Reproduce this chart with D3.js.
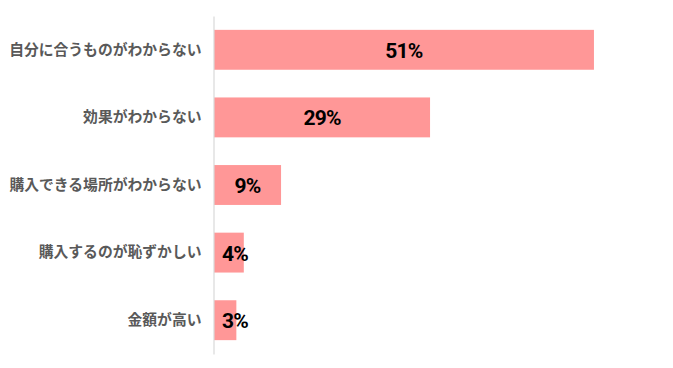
<!DOCTYPE html>
<html>
<head>
<meta charset="utf-8">
<script src="https://cdn.jsdelivr.net/npm/d3@7"></script>
<style>
  body { margin: 0; background: #fff; }
  .cat { font-family: "Noto Sans CJK JP", sans-serif; font-size: 14.8px; font-weight: bold; fill: #595959; }
  .val { font-family: Roboto, sans-serif; font-size: 21px; font-weight: bold; fill: #000; letter-spacing: -0.8px; }
</style>
</head>
<body>
<div id="chart"></div>
<script>
/* DATA */
const categories = [
  "自分に合うものがわからない",
  "効果がわからない",
  "購入できる場所がわからない",
  "購入するのが恥ずかしい",
  "金額が高い"
];
const values = [51, 29, 9, 4, 3];

/* CONSTANTS */
const width = 673,
  height = 368,
  margin = { top: 16, bottom: 14, left: 213, right: 12 };

const svg = d3.select("#chart")
  .append("svg")
  .attr("width", width)
  .attr("height", height);

// scales
const xScale = d3.scaleLinear()
  .domain([0, 60])
  .range([margin.left + 1, width - margin.right]);

const yScale = d3.scaleBand()
  .domain(categories)
  .range([margin.top, height - margin.bottom])
  .paddingInner(0.41)
  .paddingOuter(0.205);

const rows = categories.map((c, i) => ({ cat: c, value: values[i] }));

// bars
svg.selectAll("rect.bar")
  .data(rows)
  .join("rect")
  .attr("class", "bar")
  .attr("x", xScale(0))
  .attr("y", d => yScale(d.cat))
  .attr("width", d => xScale(d.value) - xScale(0))
  .attr("height", yScale.bandwidth())
  .attr("fill", "#ff9797");

// axis line (left)
const yAxis = d3.axisLeft(yScale).tickSize(0).tickPadding(12);
const gy = svg.append("g")
  .attr("transform", `translate(${margin.left + 0.5},0)`)
  .call(yAxis);
gy.select(".domain").attr("stroke", "#d9d9d9").attr("stroke-width", 1.2);
gy.selectAll(".tick text").attr("class", "cat").attr("fill", null);

// value labels
svg.selectAll("text.val")
  .data(rows)
  .join("text")
  .attr("class", "val")
  .attr("text-anchor", "middle")
  .attr("dy", "0.36em")
  .attr("x", d => Math.max((xScale(0) + xScale(d.value)) / 2, xScale(0) + 21))
  .attr("y", d => yScale(d.cat) + yScale.bandwidth() / 2 + 0.5)
  .text(d => d.value + "%");
</script>
</body>
</html>
